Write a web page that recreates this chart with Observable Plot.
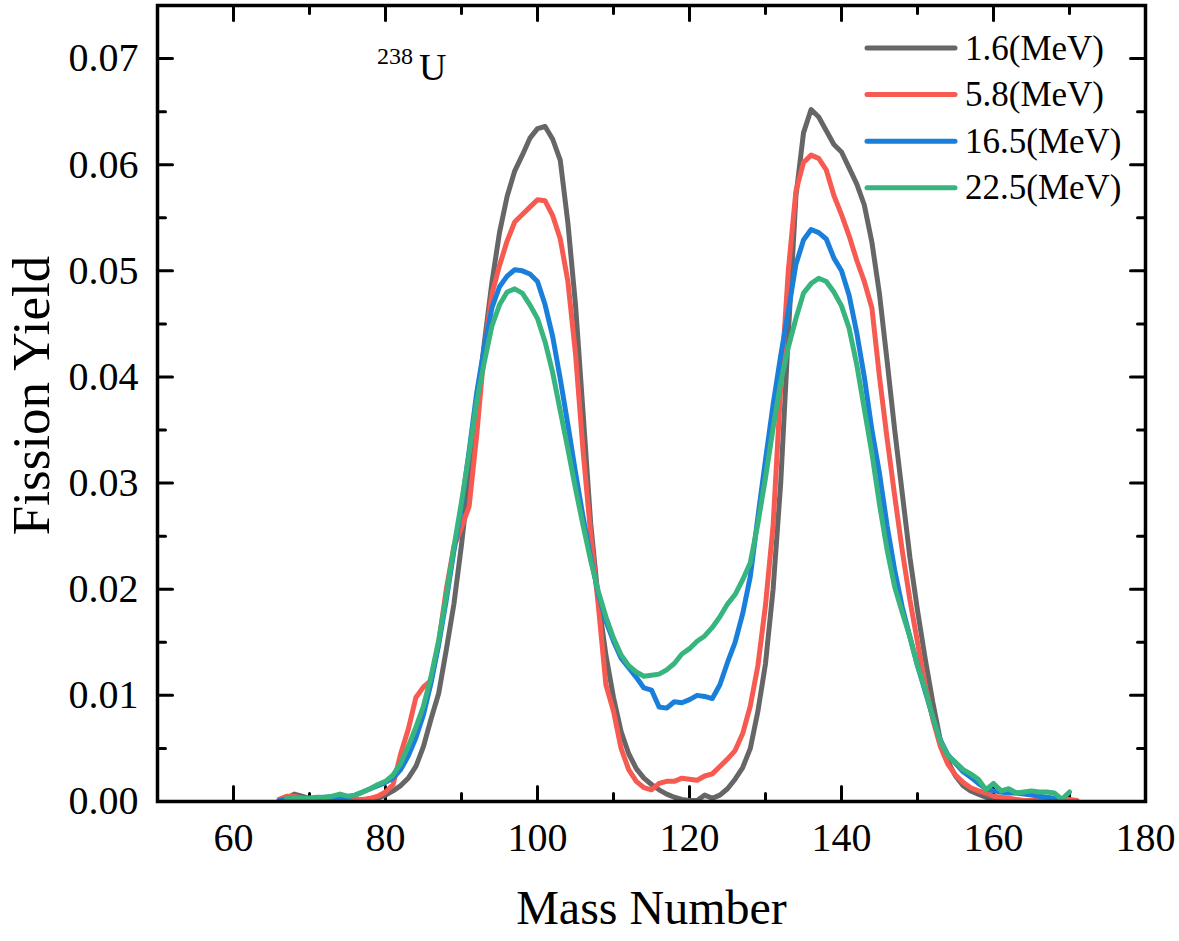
<!DOCTYPE html>
<html>
<head>
<meta charset="utf-8">
<script src="https://cdn.jsdelivr.net/npm/d3@7"></script>
<script src="https://cdn.jsdelivr.net/npm/@observablehq/plot@0.6"></script>
<style>
  body { margin: 0; background: #fff; }
  #chart { position: relative; width: 1179px; height: 941px; }
  svg text { font-family: "Liberation Serif", "Times New Roman", serif; }
</style>
</head>
<body>
<div id="chart"></div>
<script>
// Mass numbers (A) shared by all series; null = no data point
const massNumbers = [
  66,67,68,69,70,71,72,73,74,75,
  76,77,78,79,80,81,82,83,84,85,
  86,87,88,89,90,91,92,93,94,95,
  96,97,98,99,100,101,102,103,104,105,
  106,107,108,109,110,111,112,113,114,115,
  116,117,118,119,120,121,122,123,124,125,
  126,127,128,129,130,131,132,133,134,135,
  136,137,138,139,140,141,142,143,144,145,
  146,147,148,149,150,151,152,153,154,155,
  156,157,158,159,160,161,162,163,164,165,
  166,167,168,169,170,171
];

const yield_1_6 = [
  null,0.0003,0.0007,0.0005,0.0003,0.0003,0.0002,0.0002,0.0002,0.0001,
  0.0001,0.0001,0.0002,0.0003,0.0006,0.0010,0.0015,0.0022,0.0033,0.0052,
  0.0078,0.0102,0.0143,0.0186,0.0242,0.0305,0.0369,0.0432,0.0489,0.0536,
  0.0570,0.0594,0.0609,0.0625,0.0634,0.0636,0.0624,0.0604,0.0545,0.0468,
  0.0366,0.0262,0.0190,0.0138,0.0098,0.0066,0.0045,0.0031,0.0022,0.0016,
  0.0011,0.0007,0.0004,0.0002,0.0001,0.0001,0.0006,0.0003,0.0006,0.0012,
  0.0021,0.0032,0.0050,0.0085,0.0130,0.0200,0.0300,0.0440,0.0570,0.0630,
  0.0652,0.0645,0.0632,0.0619,0.0612,0.0597,0.0582,0.0562,0.0527,0.0478,
  0.0415,0.0350,0.0290,0.0230,0.0180,0.0135,0.0094,0.0058,0.0038,0.0024,
  0.0015,0.0010,0.0007,0.0004,0.0003,0.0002,0.0001,0.0001,0.0001,0.0001,
  0.0001,0.0001,0.0001,0.0001,null,null
];

const yield_5_8 = [
  0.0002,0.0005,0.0005,0.0003,0.0003,0.0003,0.0002,0.0003,0.0002,0.0002,
  0.0002,0.0002,0.0003,0.0005,0.0009,0.0016,0.0045,0.0068,0.0098,0.0108,
  0.0114,0.0150,0.0200,0.0240,0.0258,0.0278,0.0345,0.0425,0.0478,0.0505,
  0.0528,0.0546,0.0553,0.0560,0.0567,0.0566,0.0552,0.0530,0.0490,0.0422,
  0.0330,0.0252,0.0185,0.0110,0.0085,0.0050,0.0030,0.0019,0.0013,0.0011,
  0.0017,0.0019,0.0019,0.0022,0.0021,0.0020,0.0024,0.0026,0.0033,0.0040,
  0.0048,0.0064,0.0090,0.0128,0.0185,0.0260,0.0390,0.0500,0.0575,0.0602,
  0.0609,0.0606,0.0595,0.0571,0.0553,0.0533,0.0510,0.0490,0.0465,0.0400,
  0.0342,0.0288,0.0236,0.0190,0.0150,0.0110,0.0078,0.0052,0.0035,0.0025,
  0.0018,0.0013,0.0010,0.0008,0.0005,0.0004,0.0003,0.0002,0.0001,0.0001,
  0.0001,0.0001,0.0001,0.0001,0.0002,0.0001
];

const yield_16_5 = [
  0.0001,0.0002,0.0002,0.0002,0.0002,0.0003,0.0004,0.0004,0.0003,0.0004,
  0.0006,0.0009,0.0012,0.0015,0.0018,0.0022,0.0030,0.0043,0.0060,0.0082,
  0.0112,0.0148,0.0190,0.0236,0.0278,0.0330,0.0385,0.0428,0.0465,0.0485,
  0.0495,0.0501,0.0500,0.0497,0.0490,0.0468,0.0438,0.0398,0.0355,0.0310,
  0.0268,0.0230,0.0196,0.0170,0.0151,0.0135,0.0126,0.0117,0.0107,0.0105,
  0.0089,0.0088,0.0094,0.0093,0.0096,0.0100,0.0099,0.0097,0.0110,0.0131,
  0.0150,0.0177,0.0212,0.0268,0.0322,0.0374,0.0420,0.0462,0.0506,0.0529,
  0.0539,0.0536,0.0530,0.0512,0.0500,0.0477,0.0442,0.0400,0.0350,0.0309,
  0.0260,0.0218,0.0183,0.0155,0.0128,0.0104,0.0080,0.0058,0.0044,0.0036,
  0.0028,0.0023,0.0017,0.0012,0.0010,0.0009,0.0008,0.0008,0.0007,0.0006,
  0.0005,0.0004,0.0003,0.0001,null,null
];

const yield_22_5 = [
  null,0.0003,0.0003,0.0003,0.0003,0.0004,0.0004,0.0005,0.0007,0.0005,
  0.0006,0.0009,0.0012,0.0016,0.0019,0.0025,0.0036,0.0052,0.0070,0.0090,
  0.0118,0.0152,0.0194,0.0240,0.0282,0.0328,0.0377,0.0414,0.0448,0.0468,
  0.0480,0.0483,0.0479,0.0468,0.0455,0.0433,0.0404,0.0368,0.0332,0.0295,
  0.0260,0.0227,0.0198,0.0174,0.0154,0.0138,0.0128,0.0122,0.0118,0.0119,
  0.0120,0.0124,0.0130,0.0139,0.0144,0.0151,0.0156,0.0164,0.0174,0.0186,
  0.0195,0.0209,0.0225,0.0262,0.0305,0.0352,0.0395,0.0428,0.0455,0.0479,
  0.0488,0.0493,0.0490,0.0480,0.0467,0.0446,0.0412,0.0370,0.0328,0.0280,
  0.0237,0.0202,0.0178,0.0155,0.0128,0.0106,0.0080,0.0057,0.0043,0.0037,
  0.0030,0.0026,0.0021,0.0011,0.0017,0.0010,0.0012,0.0008,0.0009,0.0010,
  0.0009,0.0009,0.0008,0.0002,0.0009,null
];

const seriesNames = ["1.6(MeV)", "5.8(MeV)", "16.5(MeV)", "22.5(MeV)"];
const seriesValues = [yield_1_6, yield_5_8, yield_16_5, yield_22_5];
const seriesColors = ["#666666", "#F65A50", "#1A7FDA", "#38B47E"];

const xTicks = [60, 80, 100, 120, 140, 160, 180];
const xMinorTicks = [70, 90, 110, 130, 150, 170];
const yTicks = [0, 0.01, 0.02, 0.03, 0.04, 0.05, 0.06, 0.07];
const yMinorTicks = [0.005, 0.015, 0.025, 0.035, 0.045, 0.055, 0.065];
const xDomain = [50, 180];
const yDomain = [0, 0.075];

// long table built from the arrays
const rows = [];
seriesNames.forEach((name, i) => {
  massNumbers.forEach((a, j) => {
    const v = seriesValues[i][j];
    if (v != null) rows.push({A: a, Y: v, series: name});
  });
});

const tickShape = {draw(ctx, l) { ctx.moveTo(0, 0); ctx.lineTo(0, -l); }};
const tickStyle = {anchor: "start", shape: tickShape, stroke: "black", strokeWidth: 3};

const serif = "Liberation Serif, Times New Roman, serif";

const plot = Plot.plot({
  width: 1179,
  height: 941,
  marginLeft: 157,
  marginRight: 34,
  marginTop: 5,
  marginBottom: 140,
  style: {fontFamily: serif, color: "black", background: "white", overflow: "visible"},
  x: {domain: xDomain},
  y: {domain: yDomain},
  color: {domain: seriesNames, range: seriesColors},
  marks: [
    Plot.axisX(xTicks, {tickSize: 0, tickPadding: 21, fontSize: 40, label: null}),
    Plot.axisY(yTicks, {tickSize: 0, tickPadding: 19, fontSize: 40, label: null, tickFormat: d3.format(".2f")}),
    // inward ticks on all four sides
    Plot.vector(xTicks, {x: d => d, y: yDomain[0], length: 15, rotate: 0, ...tickStyle}),
    Plot.vector(xMinorTicks, {x: d => d, y: yDomain[0], length: 8, rotate: 0, ...tickStyle}),
    Plot.vector(xTicks, {x: d => d, y: yDomain[1], length: 15, rotate: 180, ...tickStyle}),
    Plot.vector(xMinorTicks, {x: d => d, y: yDomain[1], length: 8, rotate: 180, ...tickStyle}),
    Plot.vector(yTicks, {x: xDomain[0], y: d => d, length: 15, rotate: 90, ...tickStyle}),
    Plot.vector(yMinorTicks, {x: xDomain[0], y: d => d, length: 8, rotate: 90, ...tickStyle}),
    Plot.vector(yTicks, {x: xDomain[1], y: d => d, length: 15, rotate: -90, ...tickStyle}),
    Plot.vector(yMinorTicks, {x: xDomain[1], y: d => d, length: 8, rotate: -90, ...tickStyle}),
    Plot.line(rows, {x: "A", y: "Y", z: "series", stroke: "series", strokeWidth: 5, strokeLinejoin: "round", strokeLinecap: "round"}),
    Plot.frame({stroke: "black", strokeWidth: 3.5}),
    Plot.text(["Mass Number"], {text: d => d, frameAnchor: "bottom", dy: 107, lineAnchor: "middle", textAnchor: "middle", fontSize: 48, fill: "black"}),
    Plot.text(["Fission Yield"], {text: d => d, frameAnchor: "left", dx: -125, dy: -8, rotate: -90, lineAnchor: "middle", textAnchor: "middle", fontSize: 53, fill: "black"})
  ]
});

document.getElementById("chart").appendChild(plot);

// legend (inside the frame, top right)
const svg = d3.select(plot);
const leg = svg.append("g").attr("text-anchor", "start");
seriesNames.forEach((name, i) => {
  const y = 48 + i * 46.6;
  leg.append("line")
    .attr("x1", 867).attr("x2", 955).attr("y1", y).attr("y2", y)
    .attr("stroke", seriesColors[i]).attr("stroke-width", 5).attr("stroke-linecap", "round");
  leg.append("text")
    .attr("x", 965).attr("y", y).attr("dy", "0.33em")
    .attr("text-anchor", "start")
    .attr("font-size", 35).attr("fill", "black")
    .style("font-family", serif)
    .text(name);
});

// nuclide annotation
const ann = svg.append("text").attr("fill", "black").attr("text-anchor", "start").style("font-family", serif);
ann.append("tspan").attr("x", 377).attr("y", 64).attr("font-size", 24).text("238");
ann.append("tspan").attr("x", 419).attr("y", 80).attr("font-size", 38).text("U");
</script>
</body>
</html>
